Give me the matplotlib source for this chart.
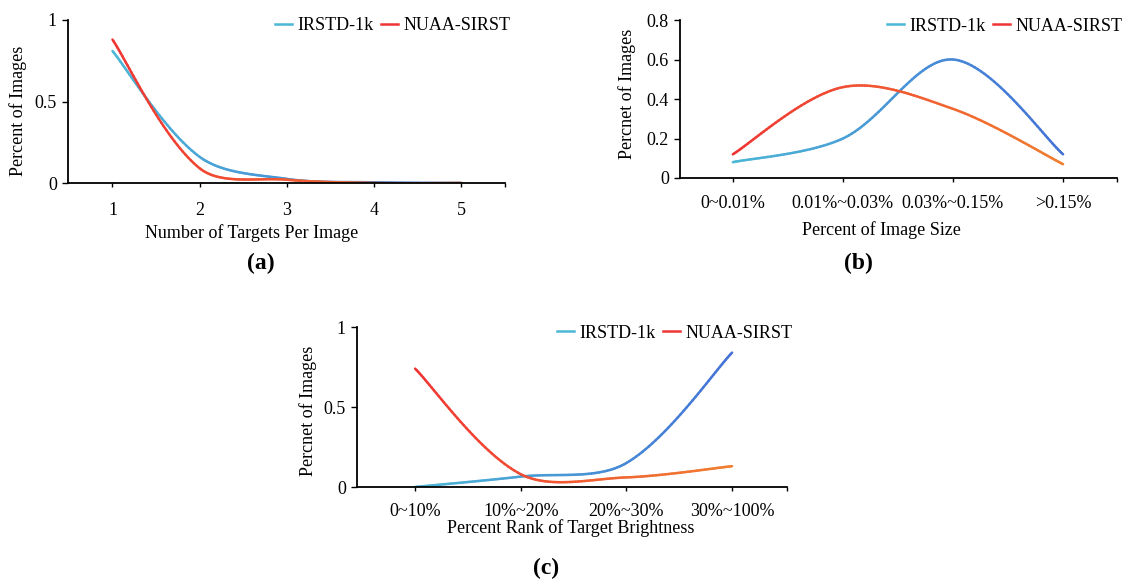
import numpy as np
import matplotlib
matplotlib.use("Agg")
import matplotlib.pyplot as plt
from matplotlib.collections import LineCollection
from matplotlib.lines import Line2D
from matplotlib.colors import to_rgb

plt.rcParams['font.family'] = ['Liberation Serif', 'DejaVu Serif']

# ---- data ----
# (a) number of targets per image
targets = [1, 2, 3, 4, 5]
a_irstd = [0.81, 0.16, 0.025, 0.004, 0.0]
a_nuaa = [0.88, 0.09, 0.02, 0.0, 0.0]

# (b) target size relative to image
size_labels = ['0~0.01%', '0.01%~0.03%', '0.03%~0.15%', '>0.15%']
b_irstd = [0.08, 0.20, 0.60, 0.12]
b_nuaa = [0.12, 0.46, 0.35, 0.07]

# (c) percent rank of target brightness
bright_labels = ['0~10%', '10%~20%', '20%~30%', '30%~100%']
c_irstd = [0.0, 0.065, 0.15, 0.84]
c_nuaa = [0.74, 0.08, 0.06, 0.13]

blue = ('#4cb8d6', '#4470d6')
red = ('#f03434', '#f08030')

W, H = 1143, 582
FS = 13


def px_ax(l, r, t, b):
    return [l / W, (H - b) / H, (r - l) / W, (b - t) / H]


def smooth(x, y, sx_px, sy_px, n=40):
    # excel-like smoothed line: bezier with control points scaled by
    # on-screen segment lengths
    X = np.asarray(x, float) * sx_px
    Y = np.asarray(y, float) * sy_px
    P = np.column_stack([X, Y])
    m = len(P)
    out = []
    for i in range(m - 1):
        p0 = P[i - 1] if i > 0 else P[i]
        p1, p2 = P[i], P[i + 1]
        p3 = P[i + 2] if i + 2 < m else P[i + 1]
        d01 = np.hypot(*(p1 - p0))
        d12 = np.hypot(*(p2 - p1))
        d23 = np.hypot(*(p3 - p2))
        f1 = d12 / (d01 + d12) / 3 if d01 > 0 else 1 / 6
        f2 = d12 / (d12 + d23) / 3 if d23 > 0 else 1 / 6
        c1 = p1 + (p2 - p0) * f1
        c2 = p2 - (p3 - p1) * f2
        t = np.linspace(0, 1, n)[:, None]
        seg = ((1 - t) ** 3 * p1 + 3 * (1 - t) ** 2 * t * c1
               + 3 * (1 - t) * t ** 2 * c2 + t ** 3 * p2)
        out.append(seg)
    out = np.concatenate(out)
    return out[:, 0] / sx_px, out[:, 1] / sy_px


def grad_line(ax, x, y, cols, lw=1.8):
    bb = ax.get_position()
    x0, x1 = ax.get_xlim()
    y0, y1 = ax.get_ylim()
    sx = bb.width * W / (x1 - x0)
    sy = bb.height * H / (y1 - y0)
    px, py = smooth(x, y, sx, sy)
    pts = np.column_stack([px, py]).reshape(-1, 1, 2)
    segs = np.concatenate([pts[:-1], pts[1:]], axis=1)
    c0, c1 = np.array(to_rgb(cols[0])), np.array(to_rgb(cols[1]))
    f = np.linspace(0, 1, len(segs))[:, None]
    lc = LineCollection(segs, colors=c0 * (1 - f) + c1 * f, linewidth=lw,
                        capstyle='round')
    ax.add_collection(lc)


def style(ax, xlim, ylim, yticks, xticks, xticklabels, pad):
    ax.set_xlim(*xlim)
    ax.set_ylim(*ylim)
    for s in ['top', 'right']:
        ax.spines[s].set_visible(False)
    for s in ['left', 'bottom']:
        ax.spines[s].set_linewidth(1.3)
    ax.set_yticks(yticks)
    ax.set_yticklabels([('%g' % v) for v in yticks])
    ax.set_xticks(list(xticks) + [xlim[1]])
    ax.set_xticklabels(list(xticklabels) + [''])
    ax.tick_params(axis='x', length=3, width=1, pad=pad, labelsize=FS)
    ax.tick_params(axis='y', length=4, width=1, pad=4, labelsize=FS)
    handles = [Line2D([], [], color=blue[0], lw=1.8), Line2D([], [], color=red[0], lw=1.8)]
    ax.legend(handles, ['IRSTD-1k', 'NUAA-SIRST'], ncol=2, frameon=False,
              loc='upper right', bbox_to_anchor=(1.03, 1.06), fontsize=FS,
              handlelength=0.95, handletextpad=0.3, columnspacing=0.4,
              borderaxespad=0)


fig = plt.figure(figsize=(W / 100, H / 100), dpi=100)

# (a)
ax1 = fig.add_axes(px_ax(68, 505, 20, 183))
style(ax1, (0.49, 5.5), (0, 1), [0, 0.5, 1], targets, [str(t) for t in targets], 11)
grad_line(ax1, targets, a_irstd, blue)
grad_line(ax1, targets, a_nuaa, red)

# (b)
ax2 = fig.add_axes(px_ax(680, 1117, 20, 178))
xb = np.arange(len(size_labels))
style(ax2, (-0.48, 3.49), (0, 0.8), [0, 0.2, 0.4, 0.6, 0.8], xb, size_labels, 9)
grad_line(ax2, xb, b_irstd, blue)
grad_line(ax2, xb, b_nuaa, red)

# (c)
ax3 = fig.add_axes(px_ax(357, 787, 327, 487))
xc = np.arange(len(bright_labels))
style(ax3, (-0.55, 3.52), (0, 1), [0, 0.5, 1], xc, bright_labels, 8.5)
grad_line(ax3, xc, c_irstd, blue)
grad_line(ax3, xc, c_nuaa, red)


def ftext(x, y, s, **kw):
    fig.text(x / W, 1 - y / H, s, ha='center', va='center', **kw)


ftext(252, 233, 'Number of Targets Per Image', fontsize=FS)
ftext(881, 230, 'Percent of Image Size', fontsize=FS)
ftext(571, 528, 'Percent Rank of Target Brightness', fontsize=FS)
ftext(18, 111, 'Percent of Images', fontsize=FS, rotation=90)
ftext(627, 94, 'Percnet of Images', fontsize=FS, rotation=90)
ftext(308, 411, 'Percnet of Images', fontsize=FS, rotation=90)
ftext(261, 263, '(a)', fontsize=17, fontweight='bold')
ftext(858, 263, '(b)', fontsize=17, fontweight='bold')
ftext(546, 568, '(c)', fontsize=17, fontweight='bold')

fig.savefig('out.png', dpi=100)
